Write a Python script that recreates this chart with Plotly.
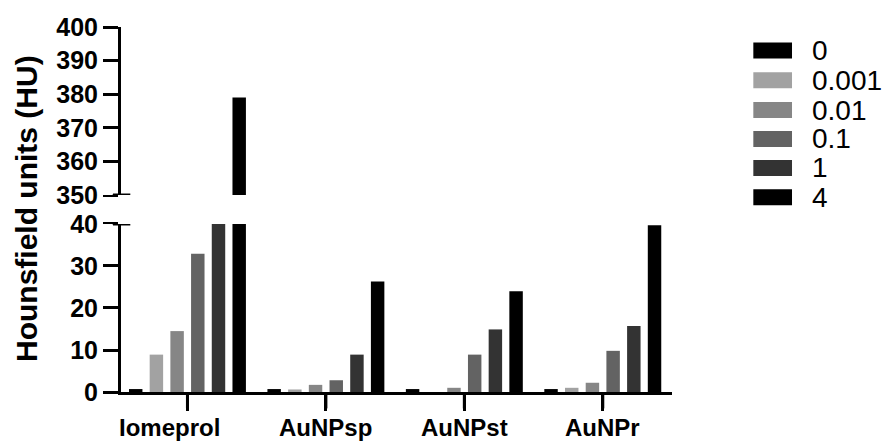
import plotly.graph_objects as go

categories = ["Iomeprol", "AuNPsp", "AuNPst", "AuNPr"]
series_names = ["0", "0.001", "0.01", "0.1", "1", "4"]
series_colors = ["#000000", "#a2a2a2", "#868686", "#636363", "#333333", "#000000"]
values = {
    "0":     [0.7, 0.7, 0.7, 0.7],
    "0.001": [8.9, 0.6, 0.0, 1.0],
    "0.01":  [14.5, 1.7, 1.0, 2.2],
    "0.1":   [32.9, 2.8, 8.9, 9.8],
    "1":     [40.0, 8.9, 14.9, 15.7],
    "4":     [379.0, 26.3, 24.0, 39.7],
}
lower_ticks = [0, 10, 20, 30, 40]
upper_ticks = [350, 360, 370, 380, 390, 400]

FONT = "Liberation Sans, Arial, sans-serif"
label_xshift = {"Iomeprol": -18}
XRANGE = [-0.48, 3.5]
PLOT_W = 551.0

fig = go.Figure()
for name, col in zip(series_names, series_colors):
    fig.add_trace(go.Bar(x=categories, y=values[name], name=name, marker_color=col,
                         marker_line_width=0, xaxis="x", yaxis="y", showlegend=False))
    fig.add_trace(go.Bar(x=categories, y=values[name], name=name, marker_color=col,
                         marker_line_width=0, xaxis="x", yaxis="y2", showlegend=False))

axis_common = dict(showline=True, linewidth=3, linecolor="black", ticks="outside",
                   ticklen=15, tickwidth=3, tickcolor="black", showgrid=False, zeroline=False,
                   automargin=False,
                   tickfont=dict(family=FONT, size=25, color="black"))

fig.update_layout(
    width=888, height=441,
    margin=dict(l=121, r=216, t=27, b=49),
    paper_bgcolor="white", plot_bgcolor="white",
    barmode="group", bargap=0.103, bargroupgap=0.35,
    showlegend=False,
    xaxis=dict(anchor="y", range=XRANGE, showline=True, linewidth=3, linecolor="black",
               ticks="outside", ticklen=16, tickwidth=3, tickcolor="black",
               showgrid=False, automargin=False, showticklabels=False),
    yaxis=dict(domain=[0, 0.4603], range=[0, 40], tickmode="array", tickvals=lower_ticks,
               ticktext=["<b>%d</b>" % v for v in lower_ticks], anchor="x", **axis_common),
    yaxis2=dict(domain=[0.5397, 1], range=[350, 400], tickmode="array", tickvals=upper_ticks,
                ticktext=["<b>%d</b>" % v for v in upper_ticks], anchor="x", **axis_common),
)

# category ticks (filled thin rectangles) and labels
for i, c in enumerate(categories):
    xp = (i - XRANGE[0]) / (XRANGE[1] - XRANGE[0])
    fig.add_shape(type="rect", xref="paper", yref="paper",
                  x0=xp - 1.5 / PLOT_W, x1=xp + 1.5 / PLOT_W,
                  y0=-0.003, y1=-0.045, fillcolor="black", line_width=0, layer="above")
    fig.add_annotation(text="<b>%s</b>" % c, xref="x", yref="paper", x=c,
                       y=-0.055, xshift=label_xshift.get(c, 0),
                       showarrow=False, xanchor="center", yanchor="top",
                       font=dict(family=FONT, size=24, color="black"))

# axis break marks
for yref, yv in [("y2", upper_ticks[0]), ("y", lower_ticks[-1])]:
    fig.add_shape(type="line", xref="paper", yref=yref, x0=-0.033, x1=-0.015, y0=yv, y1=yv,
                  line=dict(color="white", width=5), layer="above")
    fig.add_shape(type="line", xref="paper", yref=yref, x0=-0.0145, x1=0.0169, y0=yv, y1=yv,
                  line=dict(color="black", width=3), layer="above")

# y axis title
fig.add_annotation(text="<b>Hounsfield units (HU)</b>", xref="paper", yref="paper",
                   x=-0.1725, y=0.504, textangle=-90,
                   showarrow=False, xanchor="center", yanchor="middle",
                   font=dict(family=FONT, size=30, color="black"))

# legend
row_y = [0.9356, 0.8540, 0.7726, 0.6932, 0.6137, 0.5337]
for name, col, yp in zip(series_names, series_colors, row_y):
    fig.add_shape(type="rect", xref="paper", yref="paper",
                  x0=1.1476, x1=1.2178, y0=yp - 0.0219, y1=yp + 0.0219,
                  fillcolor=col, line_width=0)
    fig.add_annotation(text=name, xref="paper", yref="paper",
                       x=1.2505, y=yp, showarrow=False,
                       xanchor="left", yanchor="middle",
                       font=dict(family=FONT, size=28, color="black"))

fig.write_html("out.html")
